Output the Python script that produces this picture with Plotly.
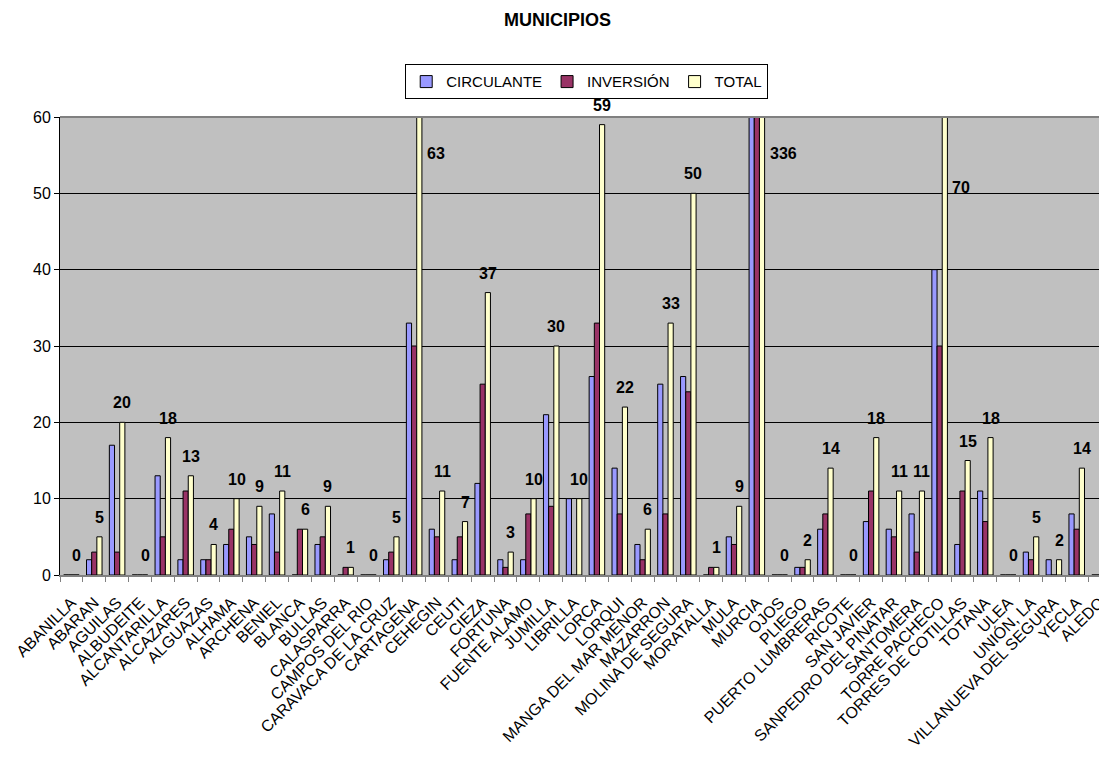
import plotly.graph_objects as go

municipios = ["ABANILLA", "ABARAN", "AGUILAS", "ALBUDEITE", "ALCANTARILLA", "ALCAZARES",
              "ALGUAZAS", "ALHAMA", "ARCHENA", "BENIEL", "BLANCA", "BULLAS", "CALASPARRA",
              "CAMPOS DEL RIO", "CARAVACA DE LA CRUZ", "CARTAGENA", "CEHEGIN", "CEUTI",
              "CIEZA", "FORTUNA", "FUENTE ALAMO", "JUMILLA", "LIBRILLA", "LORCA", "LORQUI",
              "MANGA DEL MAR MENOR", "MAZARRON", "MOLINA DE SEGURA", "MORATALLA", "MULA",
              "MURCIA", "OJOS", "PLIEGO", "PUERTO LUMBRERAS", "RICOTE", "SAN JAVIER",
              "SANPEDRO DEL PINATAR", "SANTOMERA", "TORRE PACHECO", "TORRES DE COTILLAS",
              "TOTANA", "ULEA", "UNIÓN, LA", "VILLANUEVA DEL SEGURA", "YECLA", "ALEDO"]

circulante = [0, 2, 17, 0, 13, 2, 2, 4, 5, 8, 0, 4, 0, 0, 2, 33, 6, 2, 12, 2, 2, 21, 10,
              26, 14, 4, 25, 26, 0, 5, 200, 0, 1, 6, 0, 7, 6, 8, 40, 4, 11, 0, 3, 2, 8, 0]
inversion = [0, 3, 3, 0, 5, 11, 2, 6, 4, 3, 6, 5, 1, 0, 3, 30, 5, 5, 25, 1, 8, 9, 0,
             33, 8, 2, 8, 24, 1, 4, 136, 0, 1, 8, 0, 11, 5, 3, 30, 11, 7, 0, 2, 0, 6, 0]
total = [0, 5, 20, 0, 18, 13, 4, 10, 9, 11, 6, 9, 1, 0, 5, 63, 11, 7, 37, 3, 10, 30, 10,
         59, 22, 6, 33, 50, 1, 9, 336, 0, 2, 14, 0, 18, 11, 11, 70, 15, 18, 0, 5, 2, 14, 0]

y_max = 60
y_ticks = [0, 10, 20, 30, 40, 50, 60]

FONT = "Liberation Sans, Arial, sans-serif"
BARGAP = 0.32
n_series = 3
bar_w = (1 - BARGAP) / n_series

line = dict(color="black", width=1)
fig = go.Figure()
fig.add_trace(go.Bar(name="CIRCULANTE", x=municipios, y=circulante,
                     marker=dict(color="#9999FF", line=line)))
fig.add_trace(go.Bar(name="INVERSIÓN", x=municipios, y=inversion,
                     marker=dict(color="#993366", line=line)))
fig.add_trace(go.Bar(name="TOTAL", x=municipios, y=total,
                     marker=dict(color="#FFFFCC", line=line)))

# data labels of TOTAL series
for i, v in enumerate(total):
    if v <= y_max:
        fig.add_annotation(x=i + bar_w, y=v, xref="x", yref="y", text=f"<b>{v}</b>",
                           showarrow=False, xanchor="center", yanchor="bottom", yshift=9,
                           font=dict(family=FONT, size=16, color="black"))
    else:
        ylab = y_max * 0.92 if v < 65 or v > 100 else y_max * 0.845
        fig.add_annotation(x=i + bar_w + bar_w / 2, y=ylab, xref="x", yref="y",
                           text=f"<b>{v}</b>", showarrow=False, xanchor="left",
                           yanchor="middle", xshift=3,
                           font=dict(family=FONT, size=16, color="black"))

fig.update_layout(
    width=1099, height=760,
    margin=dict(l=52, r=0, t=109, b=193),
    paper_bgcolor="white", plot_bgcolor="#C0C0C0",
    barmode="group", bargap=BARGAP, bargroupgap=0,
    font=dict(family=FONT, size=15, color="black"),
    title=dict(text="<b>MUNICIPIOS</b>", x=0.5, xanchor="center", y=0.984, yanchor="middle",
               font=dict(size=18)),
    legend=dict(orientation="h", x=0.505, xanchor="center", y=1.115, yanchor="top",
                bordercolor="black", borderwidth=1, bgcolor="white",
                font=dict(size=15), itemwidth=30, traceorder="normal",
                tracegroupgap=0),
    showlegend=True,
)
fig.update_xaxes(type="category", range=[-0.5, 45.15], tickangle=-45, ticks="outside",
                 tickson="boundaries", ticklen=5, tickcolor="#808080", showline=True,
                 linecolor="#808080", linewidth=2, showgrid=False,
                 ticklabelstandoff=10, tickfont=dict(size=16))
fig.update_yaxes(range=[0, y_max], tickvals=y_ticks, ticks="outside", ticklen=5,
                 tickcolor="black", showline=True, linecolor="black", linewidth=1,
                 showgrid=True, gridcolor="black", gridwidth=1, zeroline=False,
                 tickfont=dict(size=16))
# top border of the plot area
fig.add_shape(type="line", xref="paper", yref="paper", x0=0, x1=1, y0=1, y1=1,
              line=dict(color="#808080", width=2))

fig.write_html("out.html")
